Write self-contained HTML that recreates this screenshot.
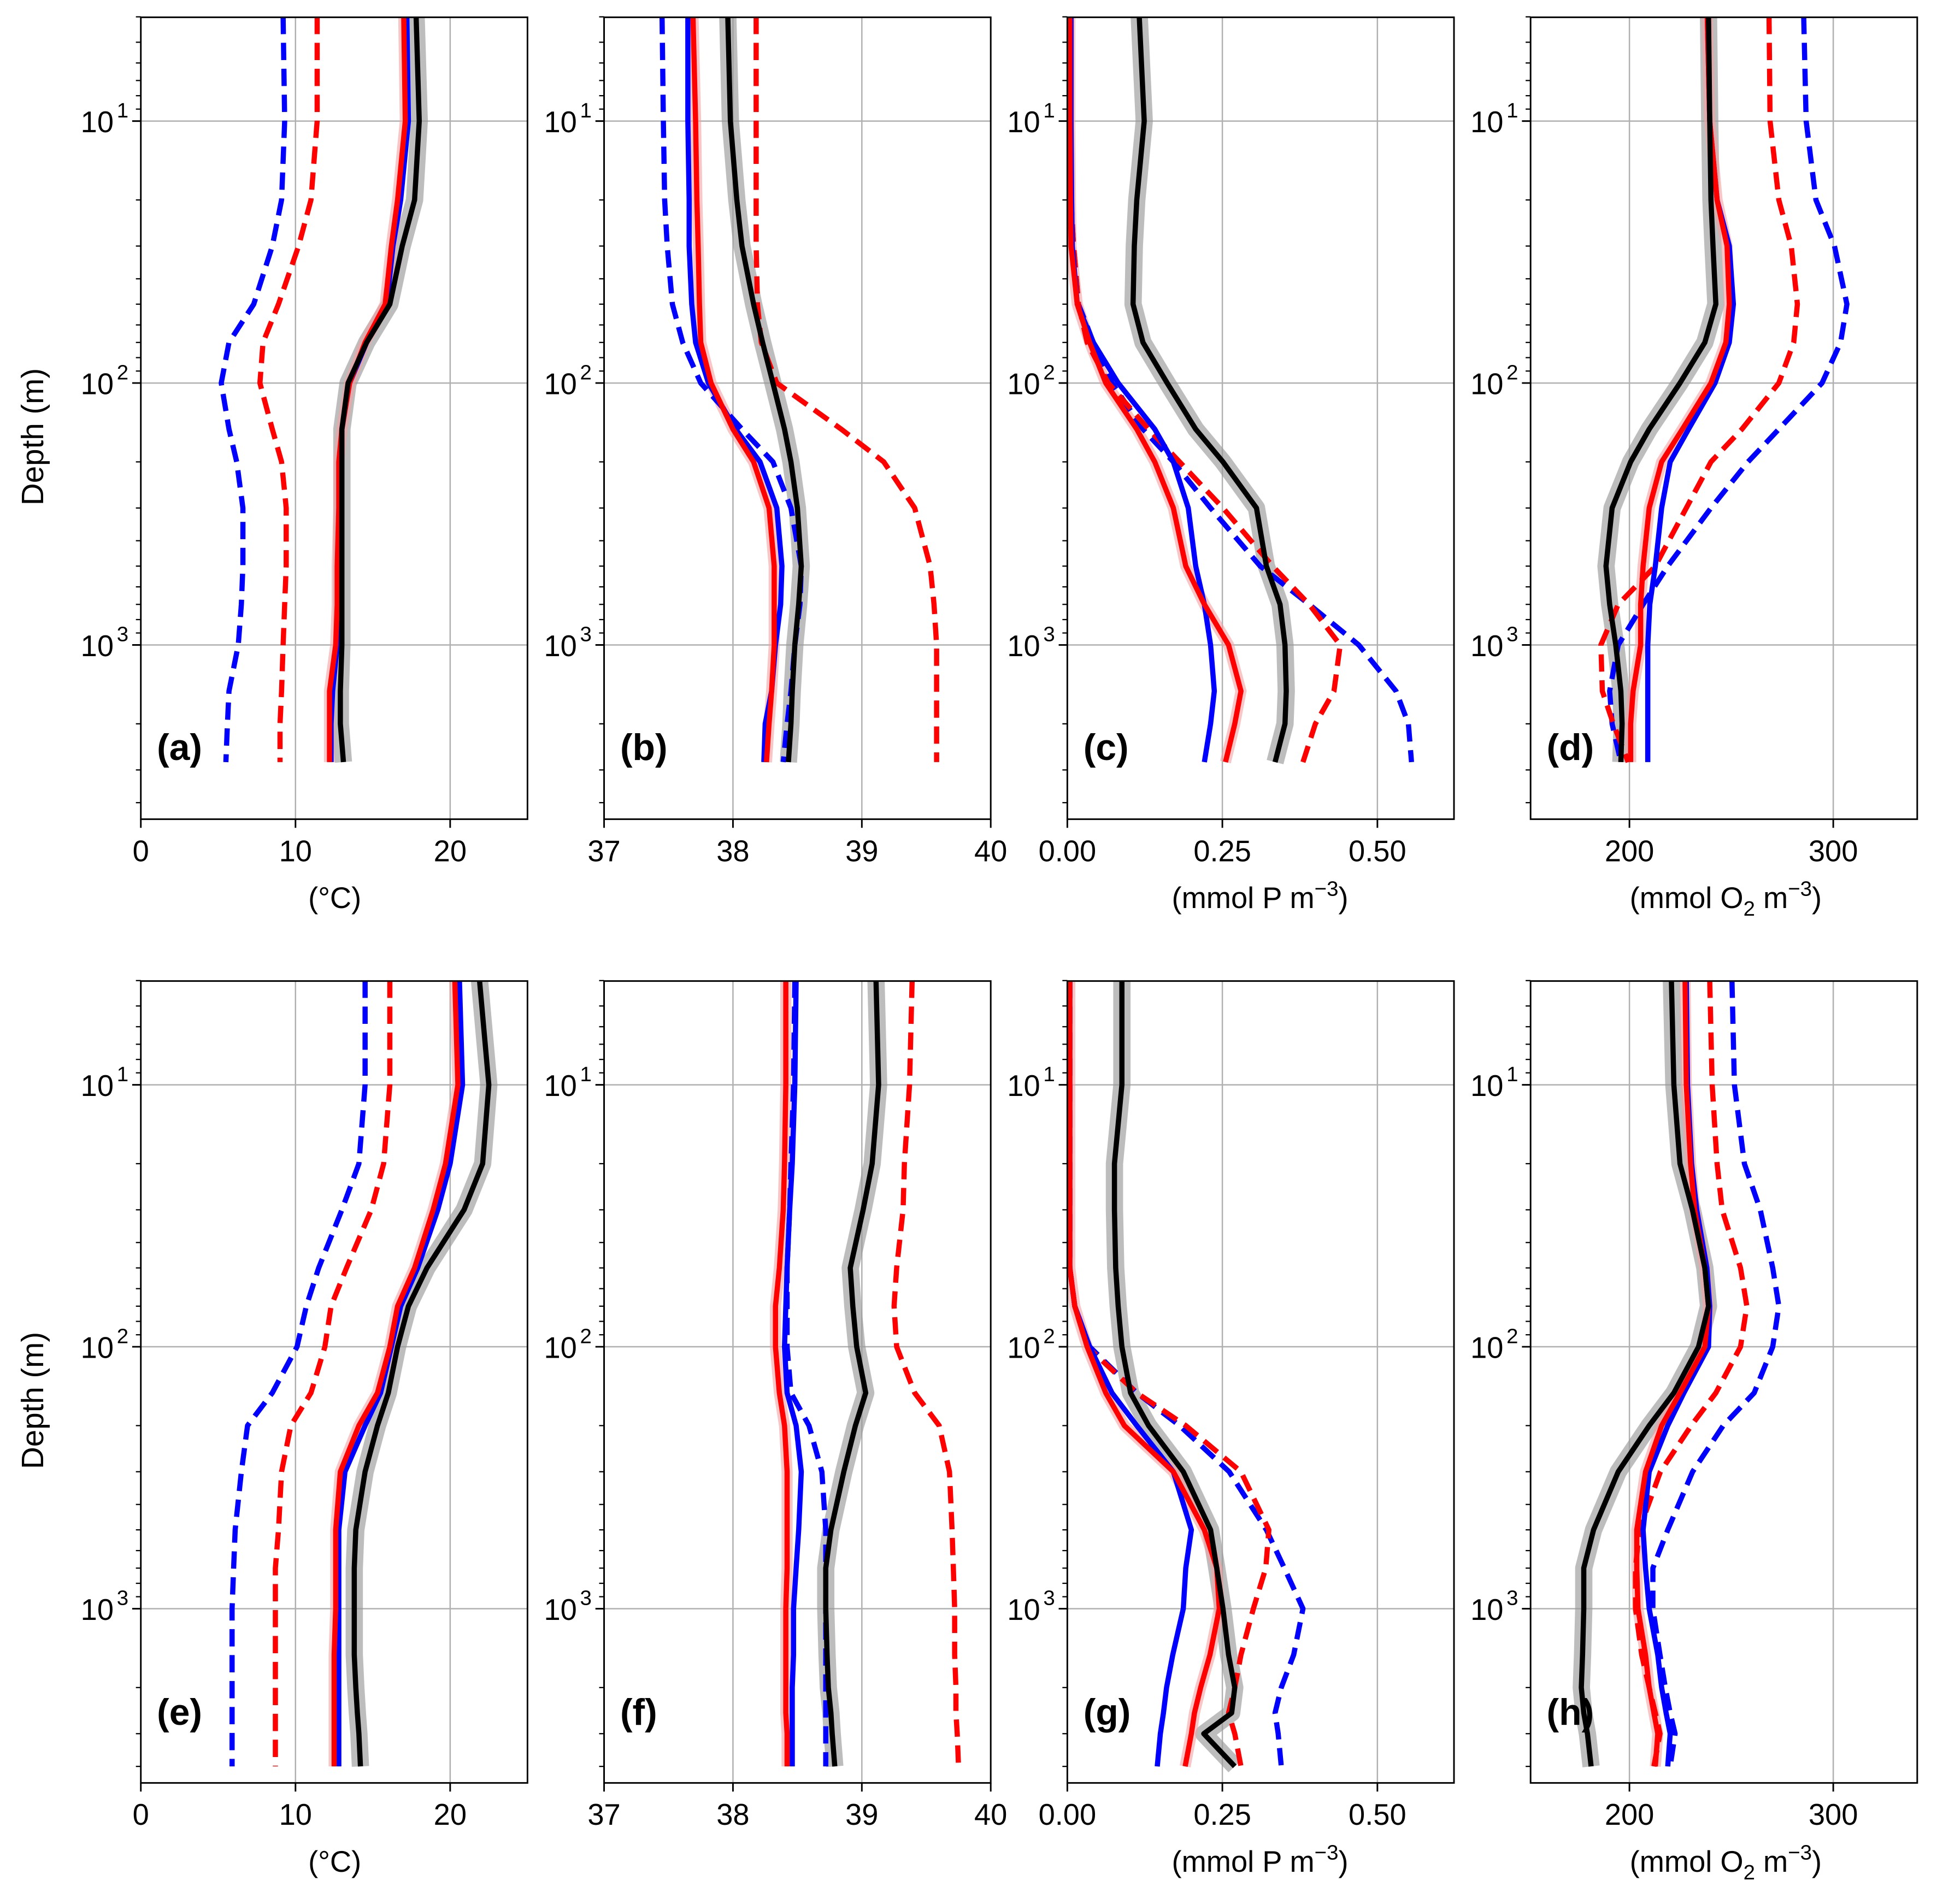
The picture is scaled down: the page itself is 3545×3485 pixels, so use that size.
<!DOCTYPE html>
<html><head><meta charset="utf-8">
<style>
html,body{margin:0;padding:0;background:#fff;}
svg{display:block;font-family:"Liberation Sans","DejaVu Sans",sans-serif;}
</style></head>
<body>
<svg id="fig" width="3545" height="3485" viewBox="0 0 1568 1541" preserveAspectRatio="none" xmlns="http://www.w3.org/2000/svg"></svg>
<script>
// ---------- depth grids ----------
const depthsTop = [4,10,20,30,50,70,100,150,200,300,500,700,1000,1500,2000,2800];
const depthsBot = [4,10,20,30,50,70,100,150,200,300,500,700,1000,1500,2000,2500,3000,4000];

// ---------- panel (a) temperature ----------
const aBlack = [17.8,18.0,17.7,16.9,16.1,14.6,13.4,13.0,13.0,13.0,13.0,13.0,13.0,12.9,12.9,13.1];
const aRed   = [17.0,17.1,16.6,16.2,15.8,14.5,13.5,13.0,12.8,12.8,12.7,12.7,12.6,12.2,12.2,12.2];
const aBlue  = [17.2,17.3,16.8,16.3,15.9,14.6,13.5,13.0,12.9,12.9,12.8,12.8,12.7,12.4,12.3,12.3];
const aBlueD = [9.2,9.3,9.1,8.5,7.3,5.7,5.2,5.7,6.2,6.6,6.6,6.5,6.3,5.7,5.6,5.5];
const aRedD  = [11.4,11.4,11.0,10.2,8.9,7.9,7.7,8.5,9.1,9.4,9.4,9.3,9.2,9.1,9.0,9.0];
// ---------- panel (b) salinity ----------
const bBlack = [37.96,37.98,38.03,38.07,38.16,38.23,38.31,38.40,38.45,38.50,38.53,38.51,38.48,38.46,38.45,38.43];
const bRed   = [37.69,37.71,37.72,37.73,37.74,37.75,37.83,38.00,38.16,38.28,38.32,38.32,38.32,38.30,38.28,38.26];
const bBlue  = [37.65,37.65,37.66,37.66,37.68,37.71,37.81,38.02,38.21,38.34,38.38,38.37,38.33,38.30,38.25,38.24];
const bBlueD = [37.45,37.46,37.47,37.49,37.53,37.61,37.75,38.07,38.31,38.45,38.53,38.52,38.48,38.45,38.42,38.39];
const bRedD  = [38.18,38.18,38.18,38.18,38.19,38.22,38.34,38.84,39.17,39.41,39.53,39.56,39.58,39.58,39.58,39.58];
// ---------- panel (c) phosphate ----------
const cBlack = [0.116,0.124,0.112,0.108,0.106,0.122,0.161,0.207,0.251,0.305,0.321,0.343,0.351,0.353,0.351,0.335];
const cBlue  = [0.006,0.006,0.007,0.008,0.016,0.042,0.082,0.141,0.171,0.195,0.207,0.221,0.231,0.237,0.231,0.221];
const cRed   = [0.004,0.004,0.005,0.006,0.016,0.036,0.062,0.112,0.141,0.171,0.191,0.221,0.260,0.280,0.270,0.255];
const cBlueD = [0.004,0.005,0.006,0.010,0.018,0.042,0.072,0.122,0.171,0.231,0.311,0.390,0.470,0.530,0.550,0.555];
const cRedD  = [0.004,0.005,0.006,0.010,0.018,0.032,0.066,0.131,0.181,0.251,0.331,0.390,0.440,0.430,0.400,0.380];
// ---------- panel (d) oxygen ----------
const dBlack = [238.8,239.4,240,241,242.4,237,224.8,209.7,200.6,191.5,188.5,190.3,193.3,195.8,196.4,195.8];
const dRed   = [238.2,239.4,243,247.9,249,247.3,240,226,215.8,209.7,206.7,205.5,205.5,201.8,200.6,200.6];
const dBlue  = [238.2,239.4,243,249,251,249,242,229,220,215.8,212.7,210,209,209,209,209];
const dBlueD = [285.5,286.7,291.5,300.6,306.7,303.6,294.5,273.3,258.2,240,218.8,206.7,194.5,190.3,191.5,195.8];
const dRedD  = [268.5,269,273.3,279.4,282.4,280.6,273.3,255.2,240,227.9,212.7,194.5,186,186.7,192.1,199.4];
// ---------- panel (e) temperature ----------
const eBlack = [21.9,22.5,22.1,20.9,18.5,17.3,16.6,16.0,15.3,14.5,13.9,13.8,13.8,13.8,13.9,14.0,14.1,14.2];
const eRed   = [20.3,20.5,19.7,18.9,17.7,16.6,16.1,15.3,14.1,12.9,12.6,12.6,12.6,12.5,12.5,12.5,12.5,12.5];
const eBlue  = [20.6,20.8,20.0,19.2,17.9,16.8,16.2,15.5,14.5,13.2,12.8,12.8,12.8,12.8,12.8,12.8,12.8,12.8];
const eBlueD = [14.5,14.5,14.1,13.0,11.5,10.7,10.1,8.5,6.9,6.5,6.1,6.0,5.9,5.9,5.9,5.9,5.9,5.9];
const eRedD  = [16.1,16.1,15.7,14.9,13.3,12.3,11.9,11.0,9.7,9.1,8.9,8.7,8.7,8.7,8.7,8.7,8.7,8.7];
// ---------- panel (f) salinity ----------
const fBlack = [39.11,39.13,39.08,39.01,38.91,38.93,38.96,39.03,38.95,38.86,38.76,38.72,38.72,38.73,38.74,38.76,38.77,38.79];
const fRed   = [38.41,38.41,38.40,38.39,38.36,38.33,38.33,38.36,38.40,38.42,38.42,38.42,38.41,38.41,38.41,38.41,38.42,38.42];
const fBlue  = [38.49,38.48,38.46,38.44,38.42,38.41,38.40,38.42,38.49,38.53,38.51,38.49,38.47,38.47,38.46,38.46,38.46,38.46];
const fBlueD = [38.48,38.47,38.45,38.44,38.42,38.42,38.42,38.45,38.59,38.69,38.72,38.72,38.72,38.72,38.72,38.72,38.72,38.72];
const fRedD  = [39.39,39.37,39.33,39.32,39.27,39.25,39.27,39.41,39.60,39.68,39.70,39.71,39.72,39.72,39.73,39.73,39.74,39.75];
// ---------- panel (g) phosphate ----------
const gBlack = [0.088,0.088,0.076,0.076,0.078,0.082,0.088,0.102,0.131,0.187,0.231,0.241,0.251,0.26,0.27,0.265,0.22,0.27];
const gRed   = [0.004,0.004,0.004,0.004,0.004,0.012,0.032,0.062,0.092,0.171,0.221,0.241,0.245,0.23,0.215,0.205,0.2,0.19];
const gBlue  = [0.004,0.004,0.004,0.004,0.004,0.012,0.036,0.072,0.112,0.171,0.2,0.191,0.187,0.17,0.16,0.155,0.15,0.145];
const gBlueD = [0.004,0.004,0.004,0.004,0.004,0.012,0.036,0.112,0.181,0.261,0.321,0.35,0.38,0.365,0.345,0.335,0.34,0.345];
const gRedD  = [0.004,0.004,0.004,0.004,0.004,0.012,0.032,0.112,0.191,0.28,0.325,0.32,0.30,0.28,0.27,0.26,0.27,0.28];
// ---------- panel (h) oxygen ----------
const hBlack = [220.6,221.8,224.8,230.9,237,238.8,233.9,221.8,209.7,194.5,182.4,177.6,177.6,177,176.4,177.6,179.4,181.2];
const hRed   = [227.3,227.9,230,232,237,238.8,237,224.8,215.8,207.9,203.6,203.6,204.2,207.9,209.7,212,213.9,212.7];
const hBlue  = [227.9,228.5,230.5,233,238,239.4,238.8,226.7,218.8,209.7,206.7,207.9,209.7,213.9,215.8,218,220,218.8];
const hBlueD = [250.3,251.5,256.4,264.2,270.3,273.3,270.3,261.2,246,231,218.8,211.5,211.5,215,217.6,220,222.4,220];
const hRedD  = [239.4,240.6,243,245.5,254.5,257.6,254.5,242.4,230.3,215.2,204.8,203,203,206,209.7,212.7,215,212];

// ---------- tick labels ----------
const tTicks = [0,10,20];
const sTicks = [37,38,39,40];
const pTicks = [0,0.25,0.5];
const pTickLabels = ["0.00","0.25","0.50"];
const oTicks = [200,300];

const NS = "http://www.w3.org/2000/svg";
const svg = document.getElementById('fig');
function mk(tag, attrs, parent){
  const e = document.createElementNS(NS, tag);
  for (const k in attrs) e.setAttribute(k, attrs[k]);
  (parent||svg).appendChild(e);
  return e;
}
const colsX = [114,489,864,1239];
const W = 313;
const rowsY = [14,794];
const H = 649;
const ranges = [[0,25],[37,40],[0,0.6235],[151.5,341.2]];
const tickSets = [tTicks,sTicks,pTicks,oTicks];
const tickLabelSets = [tTicks.map(String),sTicks.map(String),pTickLabels,oTicks.map(String)];
const letters = ["a","b","c","d","e","f","g","h"];

const panels = [
  {bl:aBlack,r:aRed,b:aBlue,bd:aBlueD,rd:aRedD,dep:depthsTop},
  {bl:bBlack,r:bRed,b:bBlue,bd:bBlueD,rd:bRedD,dep:depthsTop},
  {bl:cBlack,r:cRed,b:cBlue,bd:cBlueD,rd:cRedD,dep:depthsTop},
  {bl:dBlack,r:dRed,b:dBlue,bd:dBlueD,rd:dRedD,dep:depthsTop},
  {bl:eBlack,r:eRed,b:eBlue,bd:eBlueD,rd:eRedD,dep:depthsBot},
  {bl:fBlack,r:fRed,b:fBlue,bd:fBlueD,rd:fRedD,dep:depthsBot},
  {bl:gBlack,r:gRed,b:gBlue,bd:gBlueD,rd:gRedD,dep:depthsBot},
  {bl:hBlack,r:hRed,b:hBlue,bd:hBlueD,rd:hRedD,dep:depthsBot}
];

for (let p=0;p<8;p++){
  const col = p%4, row = Math.floor(p/4);
  const x0 = colsX[col], y0 = rowsY[row];
  const [xmin,xmax] = ranges[col];
  const xs = v => x0 + (v - xmin)/(xmax - xmin)*W;
  const ys = d => y0 + 84 + (Math.log10(d) - 1)*212;
  const g = mk('g',{});
  
  
  const clipId = 'clip'+p;
  const cp = mk('clipPath',{id:clipId},g);
  mk('rect',{x:x0,y:y0,width:W,height:H},cp);
  tickSets[col].forEach(t=>{
    const gl = mk('line',{x1:xs(t),x2:xs(t),y1:y0,y2:y0+H,stroke:'#b0b0b0','stroke-width':1.1},g);
    
    
  });
  [10,100,1000].forEach(d=>{
    const gl = mk('line',{x1:x0,x2:x0+W,y1:ys(d),y2:ys(d),stroke:'#b0b0b0','stroke-width':1.1},g);
    
    
  });
  const plot = mk('g',{'clip-path':'url(#'+clipId+')'},g);
  const pathOf = arr => arr.map((v,i)=>(i?'L':'M')+xs(v).toFixed(2)+','+ys(panels[p].dep[i]).toFixed(2)).join(' ');
  const band = mk('path',{d:pathOf(panels[p].bl),fill:'none',stroke:'#9a9a9a','stroke-opacity':0.65,'stroke-width':14,'stroke-linejoin':'round'},plot);
  
  
  const rb = mk('path',{d:pathOf(panels[p].r),fill:'none',stroke:'#f4a0a0','stroke-opacity':0.6,'stroke-width':9},plot);
  
  
  const series = [
    ['blue-dashed-line',panels[p].bd,'#0000ff','14,7'],
    ['red-dashed-line',panels[p].rd,'#ff0000','14,7'],
    ['blue-solid-line',panels[p].b,'#0000ff',''],
    ['red-solid-line',panels[p].r,'#ff0000',''],
    ['black-observation-line',panels[p].bl,'#000000','']
  ];
  series.forEach(s=>{
    const a = {d:pathOf(s[1]),fill:'none',stroke:s[2],'stroke-width':4.2,'stroke-linejoin':'round'};
    if (s[3]) a['stroke-dasharray']=s[3];
    const el = mk('path',a,plot);
    
    
  });
  const fr = mk('rect',{x:x0,y:y0,width:W,height:H,fill:'none',stroke:'#000','stroke-width':1.3},g);
  
  
  tickSets[col].forEach((t,i)=>{
    mk('line',{x1:xs(t),x2:xs(t),y1:y0+H,y2:y0+H+7,stroke:'#000','stroke-width':1.3},g);
    const tx = mk('text',{x:xs(t),y:y0+H+34,'text-anchor':'middle','font-size':24},g);
    tx.textContent = tickLabelSets[col][i];
    
    
  });
  for (let dec=0; dec<4; dec++){
    for (let m=1;m<10;m++){
      const d = m*Math.pow(10,dec);
      const yy = ys(d);
      if (yy < y0-0.5 || yy > y0+H+0.5) continue;
      mk('line',{x1:x0,x2:x0-(m===1?7:4),y1:yy,y2:yy,stroke:'#000','stroke-width':m===1?1.3:1},g);
    }
  }
  [1,2,3].forEach(e=>{
    const tx = mk('text',{x:x0-22,y:ys(Math.pow(10,e))+9,'text-anchor':'end','font-size':24},g);
    tx.textContent = '10';
    
    
    const sup = mk('text',{x:x0-10,y:ys(Math.pow(10,e))-3,'text-anchor':'end','font-size':17},g);
    sup.textContent = String(e);
  });
  if (col!==1){
    const tt = mk('text',{x:x0+(col===0?157:(col===2?156:158)),y:y0+H+72,'text-anchor':'middle','font-size':24},g);
    
    
    if (col===0){ tt.textContent='(°C)'; }
    else if (col===2){
      tt.appendChild(document.createTextNode('(mmol P m'));
      const s = mk('tspan',{'font-size':17,dy:-10},tt); s.textContent='−3';
      const c = mk('tspan',{dy:10},tt); c.textContent=')';
    } else {
      tt.appendChild(document.createTextNode('(mmol O'));
      const s = mk('tspan',{'font-size':17,dy:6},tt); s.textContent='2';
      const c = mk('tspan',{dy:-6},tt); c.textContent=' m';
      const s2 = mk('tspan',{'font-size':17,dy:-10},tt); s2.textContent='−3';
      const c2 = mk('tspan',{dy:10},tt); c2.textContent=')';
    }
  }
  const lt = mk('text',{x:x0+13,y:(row===0?615:1396),'font-size':30,'font-weight':'bold'},g);
  lt.textContent = '('+letters[p]+')';
  
  
  if (col===0){
    const yt = mk('text',{x:35,y:y0+H/2+15,'text-anchor':'middle','font-size':25,transform:'rotate(-90 35 '+(y0+H/2+15)+')'},g);
    yt.textContent = 'Depth (m)';
    
    
  }
}
</script>
</body></html>
